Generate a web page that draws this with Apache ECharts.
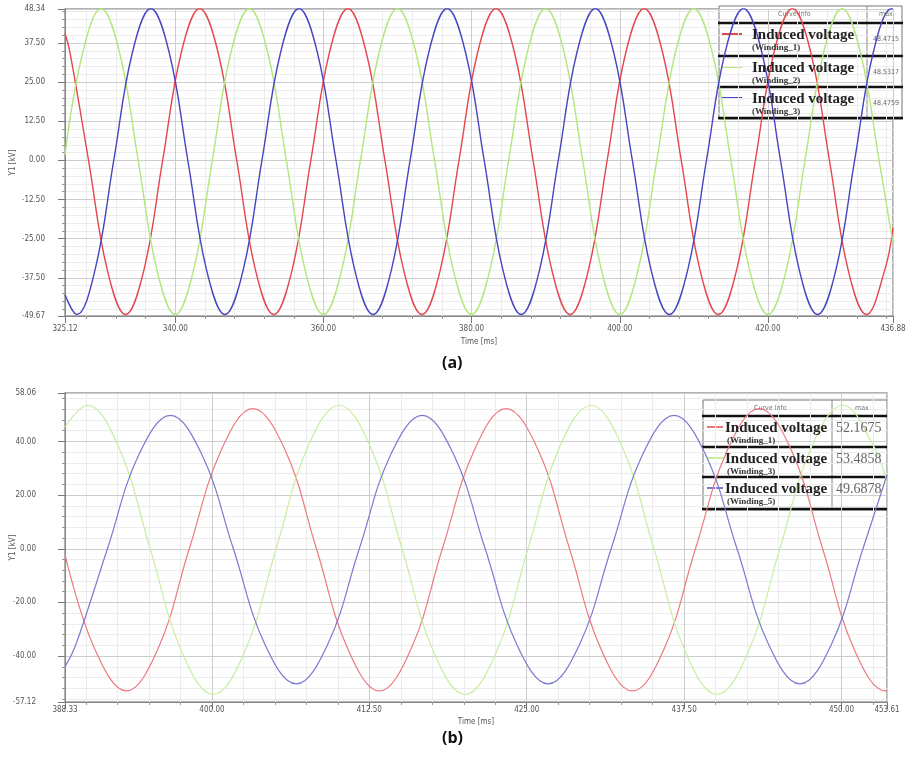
<!DOCTYPE html>
<html><head><meta charset="utf-8">
<script src="https://cdn.jsdelivr.net/npm/echarts@6/dist/echarts.min.js"></script>
<style>html,body{margin:0;padding:0;background:#fff}#c{width:907px;height:762px}</style>
</head><body><div id="c"></div>
<script>
// ---------------- data ----------------
const curveNames = ['Induced voltage', 'Induced voltage', 'Induced voltage'];
const windingsA = ['(Winding_1)', '(Winding_2)', '(Winding_3)'];
const windingsB = ['(Winding_1)', '(Winding_3)', '(Winding_5)'];
const maxA = ['48.4715', '48.5317', '48.4759'];
const maxB = ['52.1675', '53.4858', '49.6878'];

const xTicksA = [325.12, 340, 360, 380, 400, 420, 436.88];
const yTicksA = [-49.67, -37.5, -25, -12.5, 0, 12.5, 25, 37.5, 48.34];
const xTicksB = [388.33, 400, 412.5, 425, 437.5, 450, 453.61];
const yTicksB = [-57.12, -40, -20, 0, 20, 40, 58.06];

const redA = [[325.12,40.6],[325.8,34.3],[328.3,0],[330.8,-34.7],[333.3,-49.2],[335.8,-34.7],[338.3,0],[340.8,34.3],[343.3,48.5],[345.8,34.3],[348.3,0],[350.8,-34.7],[353.3,-49.2],[355.8,-34.7],[358.3,0],[360.8,34.3],[363.3,48.5],[365.8,34.3],[368.3,0],[370.8,-34.7],[373.3,-49.2],[375.8,-34.7],[378.3,0],[380.8,34.3],[383.3,48.5],[385.8,34.3],[388.3,0],[390.8,-34.7],[393.3,-49.2],[395.8,-34.7],[398.3,0],[400.8,34.3],[403.3,48.5],[405.8,34.3],[408.3,0],[410.8,-34.7],[413.3,-49.2],[415.8,-34.7],[418.3,0],[420.8,34.3],[423.3,48.5],[425.8,34.3],[428.3,0],[430.8,-34.7],[433.3,-49.2],[435.8,-34.7],[436.88,-21.5]];
const greenA = [[325.12,1.8],[327.5,34.3],[330.0,48.5],[332.5,34.3],[335.0,0],[337.5,-34.7],[340.0,-49.2],[342.5,-34.7],[345.0,0],[347.5,34.3],[350.0,48.5],[352.5,34.3],[355.0,0],[357.5,-34.7],[360.0,-49.2],[362.5,-34.7],[365.0,0],[367.5,34.3],[370.0,48.5],[372.5,34.3],[375.0,0],[377.5,-34.7],[380.0,-49.2],[382.5,-34.7],[385.0,0],[387.5,34.3],[390.0,48.5],[392.5,34.3],[395.0,0],[397.5,-34.7],[400.0,-49.2],[402.5,-34.7],[405.0,0],[407.5,34.3],[410.0,48.5],[412.5,34.3],[415.0,0],[417.5,-34.7],[420.0,-49.2],[422.5,-34.7],[425.0,0],[427.5,34.3],[430.0,48.5],[432.5,34.3],[435.0,0],[436.88,-26.5]];
const blueA = [[325.12,-42.9],[326.7,-49.2],[329.2,-34.7],[331.7,0],[334.2,34.3],[336.7,48.5],[339.2,34.3],[341.7,0],[344.2,-34.7],[346.7,-49.2],[349.2,-34.7],[351.7,0],[354.2,34.3],[356.7,48.5],[359.2,34.3],[361.7,0],[364.2,-34.7],[366.7,-49.2],[369.2,-34.7],[371.7,0],[374.2,34.3],[376.7,48.5],[379.2,34.3],[381.7,0],[384.2,-34.7],[386.7,-49.2],[389.2,-34.7],[391.7,0],[394.2,34.3],[396.7,48.5],[399.2,34.3],[401.7,0],[404.2,-34.7],[406.7,-49.2],[409.2,-34.7],[411.7,0],[414.2,34.3],[416.7,48.5],[419.2,34.3],[421.7,0],[424.2,-34.7],[426.7,-49.2],[429.2,-34.7],[431.7,0],[434.2,34.3],[436.7,48.5],[436.88,48.4]];

const redB = [[388.33,-2.1],[390.7,-37.5],[393.2,-53.0],[395.7,-37.5],[398.2,0],[400.75,36.9],[403.25,52.2],[405.8,36.9],[408.3,0],[410.8,-37.5],[413.3,-53.0],[415.8,-37.5],[418.3,0],[420.85,36.9],[423.35,52.2],[425.9,36.9],[428.4,0],[430.9,-37.5],[433.4,-53.0],[435.9,-37.5],[438.4,0],[440.95,36.9],[443.45,52.2],[446.0,36.9],[448.5,0],[451.0,-37.5],[453.5,-53.0],[453.61,-52.9]];
const greenB = [[388.33,45.4],[390.1,53.5],[392.6,37.8],[395.1,0],[397.6,-38.4],[400.1,-54.3],[402.6,-38.4],[405.1,0],[407.6,37.8],[410.1,53.5],[412.6,37.8],[415.1,0],[417.6,-38.4],[420.1,-54.3],[422.6,-38.4],[425.1,0],[427.6,37.8],[430.1,53.5],[432.6,37.8],[435.1,0],[437.6,-38.4],[440.1,-54.3],[442.6,-38.4],[445.1,0],[447.6,37.8],[450.1,53.5],[452.6,37.8],[453.61,24.5]];
const blueB = [[388.33,-44.0],[389.2,-35.6],[391.7,0],[394.2,35.1],[396.7,49.7],[399.2,35.1],[401.7,0],[404.2,-35.6],[406.7,-50.4],[409.2,-35.6],[411.7,0],[414.2,35.1],[416.7,49.7],[419.2,35.1],[421.7,0],[424.2,-35.6],[426.7,-50.4],[429.2,-35.6],[431.7,0],[434.2,35.1],[436.7,49.7],[439.2,35.1],[441.7,0],[444.2,-35.6],[446.7,-50.4],[449.2,-35.6],[451.7,0],[453.61,27.5]];

// ---------------- styling ----------------
const FONT = '"Liberation Sans Narrow", "DejaVu Sans Condensed", "Liberation Sans", sans-serif';
const SERIF = '"Liberation Serif", "DejaVu Serif", serif';
const colorsA = ['#e5474f', '#b3e67c', '#4646c2'];
const colorsB = ['#ee7880', '#c8eea0', '#7a7ad0'];

function minorTicks(majors, step) {
  const lo = majors[0], hi = majors[majors.length - 1];
  const out = [];
  for (let v = Math.ceil(lo / step) * step; v <= hi + 1e-9; v += step) {
    const r = Math.round(v * 1000) / 1000;
    if (!majors.some(m => Math.abs(m - r) < 1e-6) && r > lo && r < hi) out.push(r);
  }
  return out;
}

function majorAxis(kind, gi, ticks, name, nameGap, margin) {
  return {
    type: 'value', gridIndex: gi, min: ticks[0], max: ticks[ticks.length - 1],
    position: kind === 'x' ? 'bottom' : 'left',
    name: name, nameLocation: 'middle', nameGap: nameGap, nameRotate: kind === 'y' ? 90 : 0,
    nameMoveOverlap: false,
    nameTextStyle: { fontSize: 8, color: '#555', fontFamily: FONT },
    axisLine: { show: true, onZero: false, lineStyle: { color: '#888', width: 1 } },
    axisTick: { show: true, customValues: ticks, length: 7, lineStyle: { color: '#777' } },
    axisLabel: { customValues: ticks, formatter: v => Number(v).toFixed(2), fontSize: 8, color: '#555', fontFamily: FONT, margin: margin },
    splitLine: { show: true, lineStyle: { color: '#cdcdcd', width: 1 } },
    z: 1
  };
}
function minorAxis(kind, gi, ticks, minors) {
  return {
    type: 'value', gridIndex: gi, min: ticks[0], max: ticks[ticks.length - 1],
    position: kind === 'x' ? 'bottom' : 'left',
    axisLine: { show: false, onZero: false },
    axisTick: { show: true, customValues: minors, length: 3, lineStyle: { color: '#999' } },
    axisLabel: { show: false },
    splitLine: { show: true, lineStyle: { color: '#ececec', width: 1 } },
    z: 0
  };
}

function lineSeries(data, color, xi, yi, w) {
  return { type: 'line', data: data, xAxisIndex: xi, yAxisIndex: yi, showSymbol: false, symbol: 'none',
    smooth: 0.4, lineStyle: { color: color, width: w }, itemStyle: { color: color }, z: 3, silent: true };
}

// legend texts are drawn as title components (text only), boxes as graphic shapes
const titles = [];
function ttl(text, left, top, size, weight, family, color) {
  titles.push({ text: text, left: left, top: top, padding: 0, itemGap: 0, z: 200,
    textStyle: { fontSize: size, fontWeight: weight, fontFamily: family, color: color, lineHeight: size } });
}

function legendTable(o) {
  const els = [];
  els.push({ type: 'rect', shape: { x: o.x, y: o.y, width: o.w, height: o.h }, style: { fill: '#fff', stroke: '#777', lineWidth: 1 } });
  els.push({ type: 'line', shape: { x1: o.divX, y1: o.y, x2: o.divX, y2: o.y + o.h }, style: { stroke: '#888', lineWidth: 1 } });
  o.rowY.forEach(function (ry) {
    els.push({ type: 'line', shape: { x1: o.x - 1, y1: ry, x2: o.x + o.w + 1, y2: ry }, style: { stroke: '#111', lineWidth: 2.5 } });
  });
  ttl('Curve Info', o.head1L, o.y + 4.5, 7, 'normal', FONT, '#777');
  ttl('max', o.head2L, o.y + 4.5, 7, 'normal', FONT, '#777');
  for (let i = 0; i < 3; i++) {
    const top = o.rowY[i];
    els.push({ type: 'line', shape: { x1: o.sx1, y1: top + 11, x2: o.sx2, y2: top + 11 }, style: { stroke: o.colors[i], lineWidth: 2 } });
    ttl(o.names[i], o.nameX, top + 4.5, 15, 'bold', SERIF, '#222');
    ttl(o.subs[i], o.subX, top + 20.5, 9, 'bold', SERIF, '#333');
    ttl(o.vals[i], o.valX, top + o.valDy - o.valSize / 2, o.valSize, 'normal', o.valFamily, '#666');
  }
  return { type: 'group', z: 100, children: els };
}

const legendA = legendTable({ x: 719, y: 6, w: 183, h: 113, divX: 867, head1L: 778, head2L: 879, rowY: [23, 56, 87, 118],
  sx1: 722, sx2: 742, nameX: 752, subX: 752, valX: 873, valDy: 16, valSize: 7, valFamily: FONT,
  names: curveNames, subs: windingsA, vals: maxA, colors: colorsA });
const legendB = legendTable({ x: 703, y: 400, w: 184, h: 110, divX: 832, head1L: 754, head2L: 855, rowY: [416, 447, 477, 509],
  sx1: 707, sx2: 723, nameX: 725, subX: 727, valX: 836, valDy: 12, valSize: 14, valFamily: SERIF,
  names: curveNames, subs: windingsB, vals: maxB, colors: colorsB });
ttl('(a)', 442, 355, 16, 'bold', '"Open Sans", "DejaVu Sans", sans-serif', '#111');
ttl('(b)', 442, 730, 16, 'bold', '"Open Sans", "DejaVu Sans", sans-serif', '#111');

const option = {
  animation: false,
  backgroundColor: '#fff',
  title: titles,
  grid: [
    { left: 65, top: 9, width: 828, height: 307, show: true, borderColor: '#999', borderWidth: 1.5, containLabel: false, outerBoundsMode: 'none' },
    { left: 65, top: 393, width: 822, height: 309, show: true, borderColor: '#999', borderWidth: 1.5, containLabel: false, outerBoundsMode: 'none' }
  ],
  xAxis: [
    majorAxis('x', 0, xTicksA, 'Time [ms]', 22, 9),
    minorAxis('x', 0, xTicksA, minorTicks(xTicksA, 4)),
    majorAxis('x', 1, xTicksB, 'Time [ms]', 16, 4),
    minorAxis('x', 1, xTicksB, minorTicks(xTicksB, 2.5))
  ],
  yAxis: [
    majorAxis('y', 0, yTicksA, 'Y1 [kV]', 48, 20),
    minorAxis('y', 0, yTicksA, minorTicks(yTicksA, 2.5)),
    majorAxis('y', 1, yTicksB, 'Y1 [kV]', 48, 29),
    minorAxis('y', 1, yTicksB, minorTicks(yTicksB, 4))
  ],
  series: [
    lineSeries(redA, colorsA[0], 0, 0, 1.4),
    lineSeries(greenA, colorsA[1], 0, 0, 1.4),
    lineSeries(blueA, colorsA[2], 0, 0, 1.4),
    lineSeries(redB, colorsB[0], 2, 2, 1.2),
    lineSeries(greenB, colorsB[1], 2, 2, 1.2),
    lineSeries(blueB, colorsB[2], 2, 2, 1.2)
  ],
  graphic: [legendA, legendB]
};
const chart = echarts.init(document.getElementById('c'), null, { renderer: 'canvas' });
chart.setOption(option);
</script></body></html>
